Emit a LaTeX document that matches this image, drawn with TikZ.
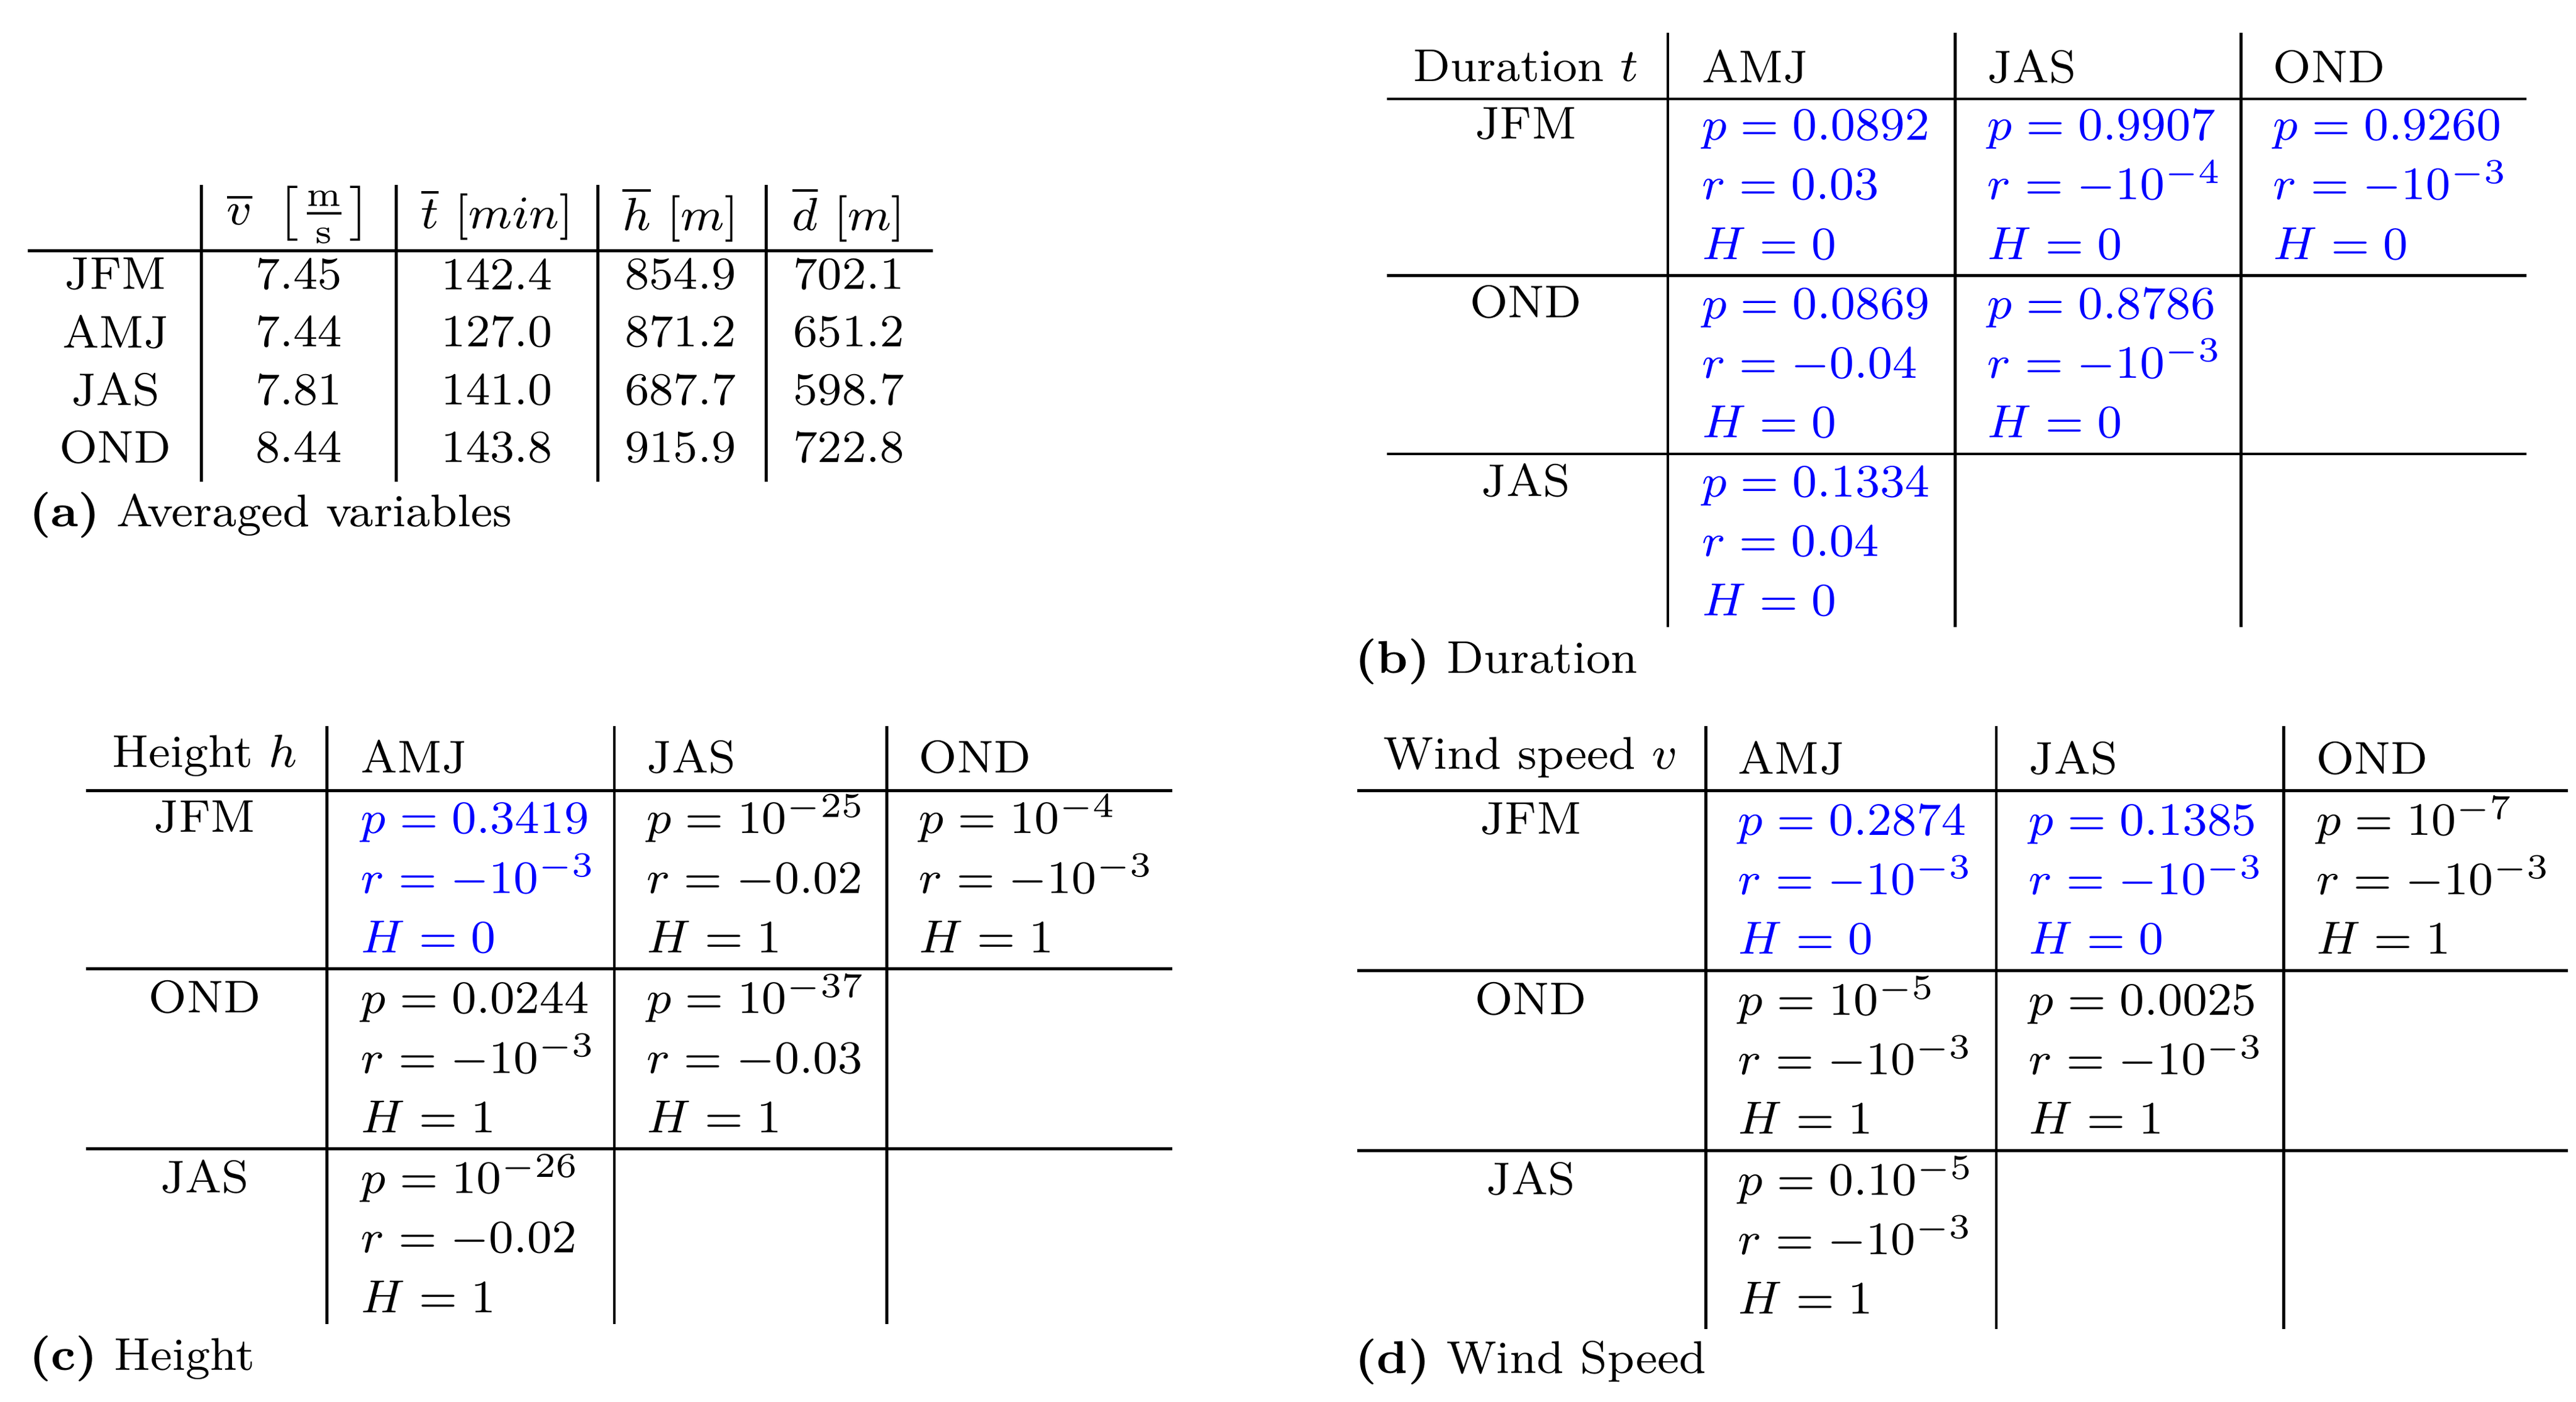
\documentclass[tikz,border=0pt]{standalone}
\usepackage{amsmath}
\usepackage{xcolor}
\usetikzlibrary{positioning}
\newcommand{\statcell}[7]{%
  \node[txt,text=#6] (#1p) at (#2,{#3+10}) {$p = #4$};
  \node[txt,text=#6] (#1r) at (#2,{#3+46}) {$r = #5$};
  \node[txt,text=#6] (#1h) at (#2,{#3+82}) {$H = #7$};
}
\begin{document}
\begin{tikzpicture}[x=0.01cm,y=-0.01cm,
  every node/.style={font=\fontsize{7.9}{9.5}\selectfont},
  txt/.style={anchor=base west, inner sep=0pt},
  lbl/.style={inner sep=0pt},
  captxt/.style={anchor=west, inner sep=0pt},
  rule/.style={draw, line width=0.5pt}
  ]
\useasboundingbox (0,0) rectangle (1560,849);
% (a)
\foreach \x in {122,240,362,464} \draw[rule] (\x,112) -- (\x,292);
\draw[rule] (17,152) -- (565,152);
\node[lbl] (ha) at (181,130) {$\overline{v}\ \left[\frac{\mathrm{m}}{\mathrm{s}}\right]$};
\node[lbl] (hb) at (301,130) {$\overline{t}\ [min]$};
\node[lbl] (hc) at (412,130) {$\overline{h}\ [m]$};
\node[lbl] (hd) at (514,130) {$\overline{d}\ [m]$};
\foreach \name/\y/\v/\t/\h/\d in {JFM/166/7.45/142.4/854.9/702.1, AMJ/201/7.44/127.0/871.2/651.2, JAS/236/7.81/141.0/687.7/598.7, OND/271/8.44/143.8/915.9/722.8}{
  \node[lbl] (a\name) at (70,\y) {\name};
  \node[lbl] at (181,\y) {\v};
  \node[lbl] at (301,\y) {\t};
  \node[lbl] at (412,\y) {\h};
  \node[lbl] at (514,\y) {\d};
}
\node[captxt] (capa) at (17,312) {\textbf{(a)} Averaged variables};
% (b)
\foreach \x in {1010,1184,1357} \draw[rule] (\x,20) -- (\x,380);
\foreach \y in {60,167,275} \draw[rule] (840,\y) -- (1530,\y);
\node[lbl] at (924,40) {Duration $t$};
\node[txt] at (1030,50) {AMJ};
\node[txt] at (1203,50) {JAS};
\node[txt] at (1376,50) {OND};
\node[lbl] at (924,75) {JFM};
\node[lbl] at (924,183) {OND};
\node[lbl] at (924,291) {JAS};
\statcell{b11}{1030}{75}{0.0892}{0.03}{blue}{0}
\statcell{b12}{1203}{75}{0.9907}{-10^{-4}}{blue}{0}
\statcell{b13}{1376}{75}{0.9260}{-10^{-3}}{blue}{0}
\statcell{b21}{1030}{183}{0.0869}{-0.04}{blue}{0}
\statcell{b22}{1203}{183}{0.8786}{-10^{-3}}{blue}{0}
\statcell{b31}{1030}{291}{0.1334}{0.04}{blue}{0}
\node[captxt] at (820,401) {\textbf{(b)} Duration};
% (c)
\foreach \x in {198,372,537} \draw[rule] (\x,440) -- (\x,802);
\foreach \y in {479,587,696} \draw[rule] (52,\y) -- (710,\y);
\node[lbl] at (124,458) {Height $h$};
\node[txt] at (218,468) {AMJ};
\node[txt] at (391,468) {JAS};
\node[txt] at (556,468) {OND};
\node[lbl] at (124,495) {JFM};
\node[lbl] at (124,604) {OND};
\node[lbl] at (124,713) {JAS};
\statcell{c11}{218}{495}{0.3419}{-10^{-3}}{blue}{0}
\statcell{c12}{391}{495}{10^{-25}}{-0.02}{black}{1}
\statcell{c13}{556}{495}{10^{-4}}{-10^{-3}}{black}{1}
\statcell{c21}{218}{604}{0.0244}{-10^{-3}}{black}{1}
\statcell{c22}{391}{604}{10^{-37}}{-0.03}{black}{1}
\statcell{c31}{218}{713}{10^{-26}}{-0.02}{black}{1}
\node[captxt] at (17,823) {\textbf{(c)} Height};
% (d)
\foreach \x in {1033,1209,1383} \draw[rule] (\x,440) -- (\x,805);
\foreach \y in {479,588,697} \draw[rule] (822,\y) -- (1555,\y);
\node[lbl] at (927,459) {Wind speed $v$};
\node[txt] at (1052,469) {AMJ};
\node[txt] at (1228,469) {JAS};
\node[txt] at (1402,469) {OND};
\node[lbl] at (927,496) {JFM};
\node[lbl] at (927,605) {OND};
\node[lbl] at (927,714) {JAS};
\statcell{d11}{1052}{496}{0.2874}{-10^{-3}}{blue}{0}
\statcell{d12}{1228}{496}{0.1385}{-10^{-3}}{blue}{0}
\statcell{d13}{1402}{496}{10^{-7}}{-10^{-3}}{black}{1}
\statcell{d21}{1052}{605}{10^{-5}}{-10^{-3}}{black}{1}
\statcell{d22}{1228}{605}{0.0025}{-10^{-3}}{black}{1}
\statcell{d31}{1052}{714}{0.10^{-5}}{-10^{-3}}{black}{1}
\node[captxt] at (820,825) {\textbf{(d)} Wind Speed};
\end{tikzpicture}
\end{document}
